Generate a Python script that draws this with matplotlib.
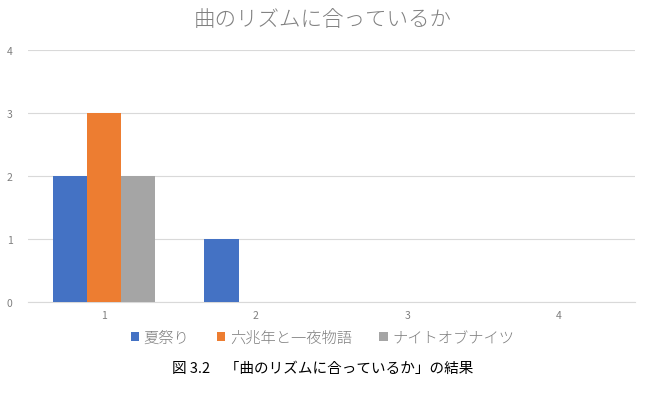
import matplotlib
matplotlib.use("Agg")
import matplotlib.pyplot as plt
import numpy as np

plt.rcParams['font.family'] = ['Noto Sans CJK JP', 'DejaVu Sans']

categories = ["1", "2", "3", "4"]
series_names = ["夏祭り", "六兆年と一夜物語", "ナイトオブナイツ"]
natsumatsuri = [2, 1, 0, 0]
rokuchonen = [3, 0, 0, 0]
night_of_knights = [2, 0, 0, 0]
colors = ["#4472C4", "#ED7D31", "#A5A5A5"]
title = "曲のリズムに合っているか"
caption = "図 3.2　「曲のリズムに合っているか」の結果"

fig = plt.figure(figsize=(6.45, 4.02), dpi=100)
ax = fig.add_axes([28/645, 1-303/402, (635-28)/645, (303-51)/402])

x = np.arange(len(categories))
w = 0.225
handles = []
for i, (vals, name, c) in enumerate(zip([natsumatsuri, rokuchonen, night_of_knights], series_names, colors)):
    h = ax.bar(x + (i-1)*w, vals, width=w, color=c, label=name, zorder=3)
    handles.append(h)

ax.set_xlim(-0.5, 3.5)
ax.set_ylim(0, 4)
ax.set_yticks([0, 1, 2, 3, 4])
ax.set_xticks(x)
ax.set_xticklabels(categories)
ax.yaxis.grid(True, color="#D9D9D9", linewidth=0.8, zorder=0)
for s in ["top", "right", "left"]:
    ax.spines[s].set_visible(False)
ax.spines["bottom"].set_color("#D9D9D9")
ax.spines["bottom"].set_linewidth(0.8)
ax.tick_params(axis="both", length=0, labelsize=7.5, labelcolor="#7F7F7F")
ax.tick_params(axis="x", pad=6)
ax.tick_params(axis="y", pad=11)

fig.text(0.5, 1-20/402, title, ha="center", va="center", fontsize=15.5,
         color="#808080", fontweight="light")

leg = fig.legend(handles=handles, labels=series_names, loc="center", bbox_to_anchor=(0.5, 1-339/402),
                 ncol=3, frameon=False, prop={"size": 11, "weight": "light"},
                 handlelength=0.55, handleheight=0.55,
                 handletextpad=0.3, columnspacing=1.8, labelcolor="#7F7F7F")

fig.text(0.5, 1-369/402, caption, ha="center", va="center", fontsize=10.5, color="black")

fig.savefig("out.png", dpi=100)
